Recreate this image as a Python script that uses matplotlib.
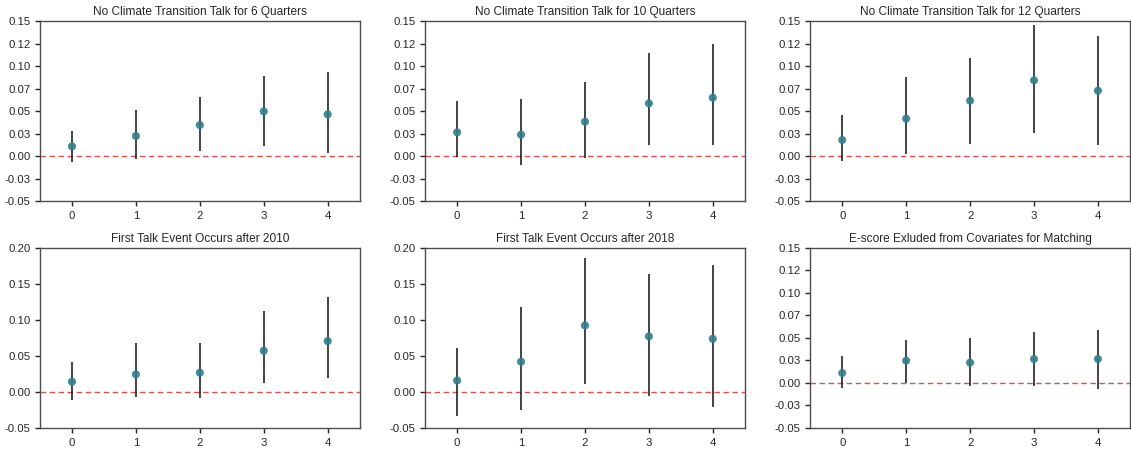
import numpy as np
import matplotlib
matplotlib.use("Agg")
import matplotlib.pyplot as plt
from matplotlib.ticker import FormatStrFormatter

plt.rcParams['font.family'] = ['Liberation Sans', 'DejaVu Sans']

horizons = [0, 1, 2, 3, 4]

titles = [
    "No Climate Transition Talk for 6 Quarters",
    "No Climate Transition Talk for 10 Quarters",
    "No Climate Transition Talk for 12 Quarters",
    "First Talk Event Occurs after 2010",
    "First Talk Event Occurs after 2018",
    "E-score Exluded from Covariates for Matching",
]

# point estimates
q6_est = [0.0107, 0.0222, 0.0344, 0.0496, 0.0463]
q10_est = [0.0263, 0.0237, 0.0381, 0.0585, 0.0648]
q12_est = [0.0178, 0.0415, 0.0615, 0.0841, 0.0726]
y2010_est = [0.0143, 0.0245, 0.0268, 0.0573, 0.0707]
y2018_est = [0.0160, 0.0420, 0.0924, 0.0772, 0.0739]
escore_est = [0.0111, 0.0248, 0.0226, 0.0267, 0.0267]

# confidence interval bounds
q6_lo = [-0.0070, -0.0030, 0.0056, 0.0115, 0.0033]
q6_hi = [0.0278, 0.0507, 0.0656, 0.0885, 0.0933]
q10_lo = [-0.0007, -0.0100, -0.0022, 0.0122, 0.0122]
q10_hi = [0.0607, 0.0637, 0.0826, 0.1144, 0.1244]
q12_lo = [-0.0056, 0.0019, 0.0130, 0.0256, 0.0119]
q12_hi = [0.0452, 0.0878, 0.1093, 0.1456, 0.1337]
y2010_lo = [-0.0110, -0.0069, -0.0088, 0.0129, 0.0199]
y2010_hi = [0.0420, 0.0675, 0.0684, 0.1123, 0.1322]
y2018_lo = [-0.0330, -0.0250, 0.0106, -0.0060, -0.0204]
y2018_hi = [0.0610, 0.1180, 0.1867, 0.1645, 0.1770]
escore_lo = [-0.0056, 0.0000, -0.0030, -0.0030, -0.0070]
escore_hi = [0.0300, 0.0481, 0.0496, 0.0563, 0.0589]

ticks_small = [-0.05, -0.025, 0, 0.025, 0.05, 0.075, 0.1, 0.125, 0.15]
ticks_large = [-0.05, 0, 0.05, 0.1, 0.15, 0.2]

panels = [
    (q6_est, q6_lo, q6_hi, ticks_small),
    (q10_est, q10_lo, q10_hi, ticks_small),
    (q12_est, q12_lo, q12_hi, ticks_small),
    (y2010_est, y2010_lo, y2010_hi, ticks_large),
    (y2018_est, y2018_lo, y2018_hi, ticks_large),
    (escore_est, escore_lo, escore_hi, ticks_small),
]

fig, axes = plt.subplots(2, 3, figsize=(11.31, 4.51), dpi=100)
fig.subplots_adjust(left=0.0354, right=0.999, top=0.9534, bottom=0.051,
                    wspace=0.205, hspace=0.261)

for ax, title, (est, lo, hi, yt) in zip(axes.flat, titles, panels):
    est = np.array(est)
    yerr = [est - np.array(lo), np.array(hi) - est]
    ax.errorbar(horizons, est, yerr=yerr, fmt='none', ecolor='#111111',
                elinewidth=1.1, zorder=2)
    ax.scatter(horizons, est, s=34, color='#2f7f8f', alpha=0.9, zorder=3,
               edgecolors='none')
    ax.axhline(0, color='#d9534f', linestyle='--', linewidth=1.0,
               dashes=(4, 2.5), zorder=1)
    ax.set_title(title, fontsize=8.6, color='#262626', pad=4)
    ax.set_xlim(-0.5, 4.5)
    ax.set_xticks(horizons)
    ax.set_yticks(yt)
    ax.set_ylim(yt[0], yt[-1])
    ax.yaxis.set_major_formatter(FormatStrFormatter('%.2f'))
    ax.tick_params(labelsize=8.2, colors='#262626', length=3.5, width=1.0)
    for sp in ax.spines.values():
        sp.set_color('#4d4d4d')
        sp.set_linewidth(1.0)

fig.savefig('out.png', dpi=100)
